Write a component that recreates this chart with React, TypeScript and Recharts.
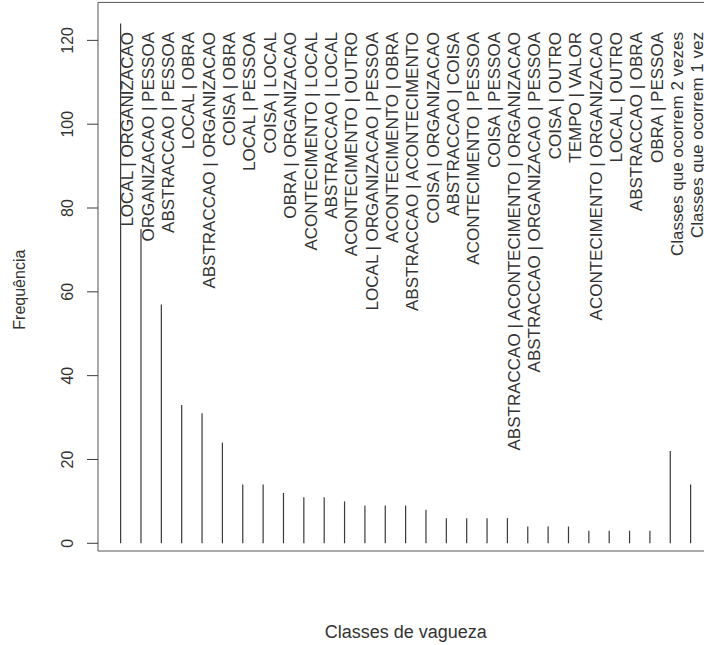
import { ComposedChart, Bar, Scatter, XAxis, YAxis, ReferenceArea } from "recharts";

const CLASSES = [
  "LOCAL | ORGANIZACAO",
  "ORGANIZACAO | PESSOA",
  "ABSTRACCAO | PESSOA",
  "LOCAL | OBRA",
  "ABSTRACCAO | ORGANIZACAO",
  "COISA | OBRA",
  "LOCAL | PESSOA",
  "COISA | LOCAL",
  "OBRA | ORGANIZACAO",
  "ACONTECIMENTO | LOCAL",
  "ABSTRACCAO | LOCAL",
  "ACONTECIMENTO | OUTRO",
  "LOCAL | ORGANIZACAO | PESSOA",
  "ACONTECIMENTO | OBRA",
  "ABSTRACCAO | ACONTECIMENTO",
  "COISA | ORGANIZACAO",
  "ABSTRACCAO | COISA",
  "ACONTECIMENTO | PESSOA",
  "COISA | PESSOA",
  "ABSTRACCAO | ACONTECIMENTO | ORGANIZACAO",
  "ABSTRACCAO | ORGANIZACAO | PESSOA",
  "COISA | OUTRO",
  "TEMPO | VALOR",
  "ACONTECIMENTO | ORGANIZACAO",
  "LOCAL | OUTRO",
  "ABSTRACCAO | OBRA",
  "OBRA | PESSOA",
  "Classes que ocorrem 2 vezes",
  "Classes que ocorrem 1 vez",
];

const FREQUENCIES = [
  124, 75, 57, 33, 31, 24, 14, 14, 12, 11, 11, 10, 9, 9, 9, 8, 6, 6, 6, 6, 4, 4, 4, 3, 3, 3, 3, 22, 14,
];

const Y_TICKS = [0, 20, 40, 60, 80, 100, 120];

const X_DOMAIN: [number, number] = [-0.12, 30.12];
const Y_DOMAIN: [number, number] = [-1.84, 129.06];
const LABEL_TOP = 122; // labels end here (data units)

const FONT = "'Liberation Sans', Arial, Helvetica, sans-serif";
const INK = "#333";

const data = CLASSES.map((name, i) => ({ idx: i + 1, name, freq: FREQUENCIES[i] }));

// R type="h" style vertical stick
const Stick = (props: any) => {
  const { x, y, width, height } = props;
  if (height == null) return null;
  const cx = x + width / 2;
  return <line x1={cx} x2={cx} y1={y} y2={y + height} stroke="#3a3a3a" strokeWidth={1.2} />;
};

const ClassLabel = (props: any) => {
  const { cx, cy, payload } = props;
  const bx = cx + 12.5;
  return (
    <text
      x={bx}
      y={cy}
      transform={`rotate(-90, ${bx}, ${cy})`}
      textAnchor="end"
      fontSize={17}
      fontFamily={FONT}
      fill={INK}
    >
      {payload.name}
    </text>
  );
};

const YTick = (props: any) => {
  const { x, y, payload } = props;
  const bx = x - 12;
  return (
    <text x={bx} y={y} transform={`rotate(-90, ${bx}, ${y})`} textAnchor="middle" fontSize={16} fontFamily={FONT} fill={INK}>
      {payload.value}
    </text>
  );
};

export default function App() {
  return (
    <div style={{ position: "fixed", left: 0, top: 0, width: 704, height: 645, overflow: "hidden", background: "#fff" }}>
      <ComposedChart width={720} height={645} data={data} margin={{ top: 2.4, right: 6.4, bottom: 0, left: 0 }}>
        <XAxis
          dataKey="idx"
          type="number"
          domain={X_DOMAIN}
          allowDataOverflow
          tick={false}
          tickLine={false}
          axisLine={false}
          height={94}
          label={{
            content: ({ viewBox }: any) => (
              <text
                x={viewBox.x + viewBox.width / 2}
                y={viewBox.y + 87}
                textAnchor="middle"
                fontSize={18}
                fontFamily={FONT}
                fill={INK}
              >
                Classes de vagueza
              </text>
            ),
          }}
        />
        <YAxis
          type="number"
          domain={Y_DOMAIN}
          allowDataOverflow
          ticks={Y_TICKS}
          width={98}
          tickSize={11}
          tickLine={{ stroke: "#3a3a3a" }}
          axisLine={false}
          tick={<YTick />}
          label={{
            content: ({ viewBox }: any) => {
              const cx = 25;
              const cy = viewBox.y + viewBox.height / 2 + 13;
              return (
                <text
                  x={cx}
                  y={cy}
                  transform={`rotate(-90, ${cx}, ${cy})`}
                  textAnchor="middle"
                  fontSize={16}
                  fontFamily={FONT}
                  fill={INK}
                >
                  Frequência
                </text>
              );
            },
          }}
        />
        <ReferenceArea
          x1={X_DOMAIN[0]}
          x2={X_DOMAIN[1]}
          y1={Y_DOMAIN[0]}
          y2={Y_DOMAIN[1]}
          fill="none"
          stroke="#555"
          strokeWidth={1}
          fillOpacity={0}
        />
        <Bar dataKey="freq" barSize={2} shape={<Stick />} isAnimationActive={false} />
        <Scatter dataKey={() => LABEL_TOP} shape={<ClassLabel />} isAnimationActive={false} />
      </ComposedChart>
    </div>
  );
}
